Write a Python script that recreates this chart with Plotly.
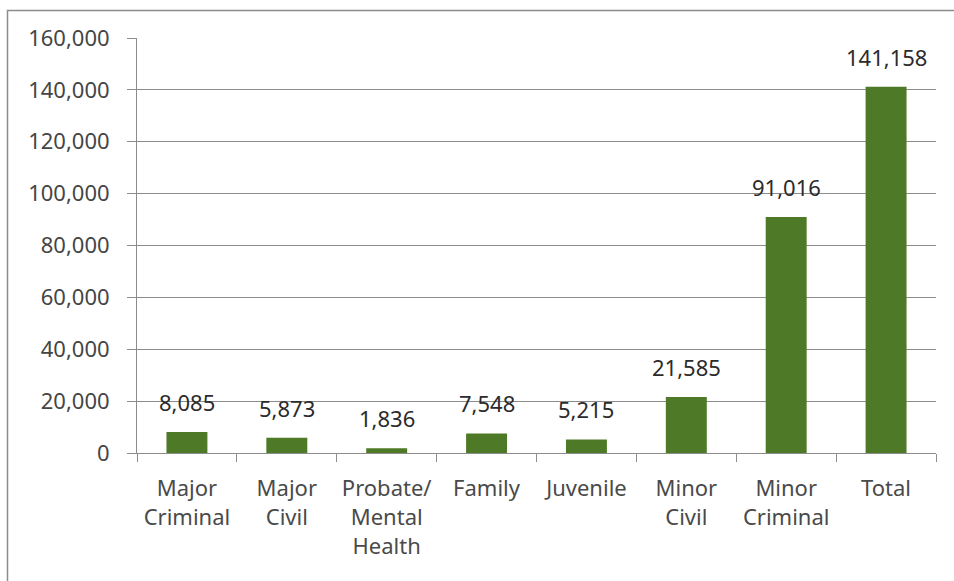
import plotly.graph_objects as go

categories = ["Major<br>Criminal", "Major<br>Civil", "Probate/<br>Mental<br>Health", "Family",
              "Juvenile", "Minor<br>Civil", "Minor<br>Criminal", "Total"]
values = [8085, 5873, 1836, 7548, 5215, 21585, 91016, 141158]
y_ticks = [0, 20000, 40000, 60000, 80000, 100000, 120000, 140000, 160000]
y_tick_labels = ["0", "20,000", "40,000", "60,000", "80,000", "100,000", "120,000", "140,000", "160,000"]

W, H = 954, 581
L, R, T, B = 137, 18, 38, 128
pw, ph = W - L - R, H - T - B

FONT = "Noto Sans"
fig = go.Figure()
fig.add_trace(go.Bar(x=categories, y=values, marker=dict(color="#4E7A27", line=dict(width=0)),
                     width=0.41, hoverinfo="x+y"))

for c, v in zip(categories, values):
    fig.add_annotation(x=c, y=v, text=f"{v:,}", showarrow=False, yanchor="middle", yshift=30,
                       font=dict(family=FONT, size=22, color="#2b2b2b"))

def px(x):
    return (x - L) / pw

def py(y):
    return 1 - (y - T) / ph

fig.add_shape(type="rect", xref="paper", yref="paper", x0=px(7.5), x1=px(980), y0=py(10.5), y1=py(600),
              line=dict(color="#8c8c8c", width=1.5), fillcolor="rgba(0,0,0,0)", layer="below")

fig.update_layout(
    width=W, height=H, margin=dict(l=L, r=R, t=T, b=B, autoexpand=False),
    paper_bgcolor="white", plot_bgcolor="white", showlegend=False,
    font=dict(family=FONT, size=22, color="#454545"),
    xaxis=dict(showline=True, linecolor="#8c8c8c", linewidth=1, ticks="outside", ticklen=8,
               tickcolor="#8c8c8c", tickson="boundaries", showgrid=False, ticklabelstandoff=16,
               tickfont=dict(family=FONT, size=22, color="#4a4a4a")),
    yaxis=dict(range=[0, 160000], tickvals=y_ticks, ticktext=y_tick_labels, showline=True,
               linecolor="#8c8c8c", linewidth=1, ticks="outside", ticklen=9, tickcolor="#8c8c8c",
               gridcolor="#8c8c8c", gridwidth=1, zeroline=False, ticklabelstandoff=13,
               tickfont=dict(family=FONT, size=22, color="#454545")),
)

fig.write_html("out.html", config={"displayModeBar": False},
               post_script="document.body.style.margin='0';document.body.style.overflow='hidden';")
